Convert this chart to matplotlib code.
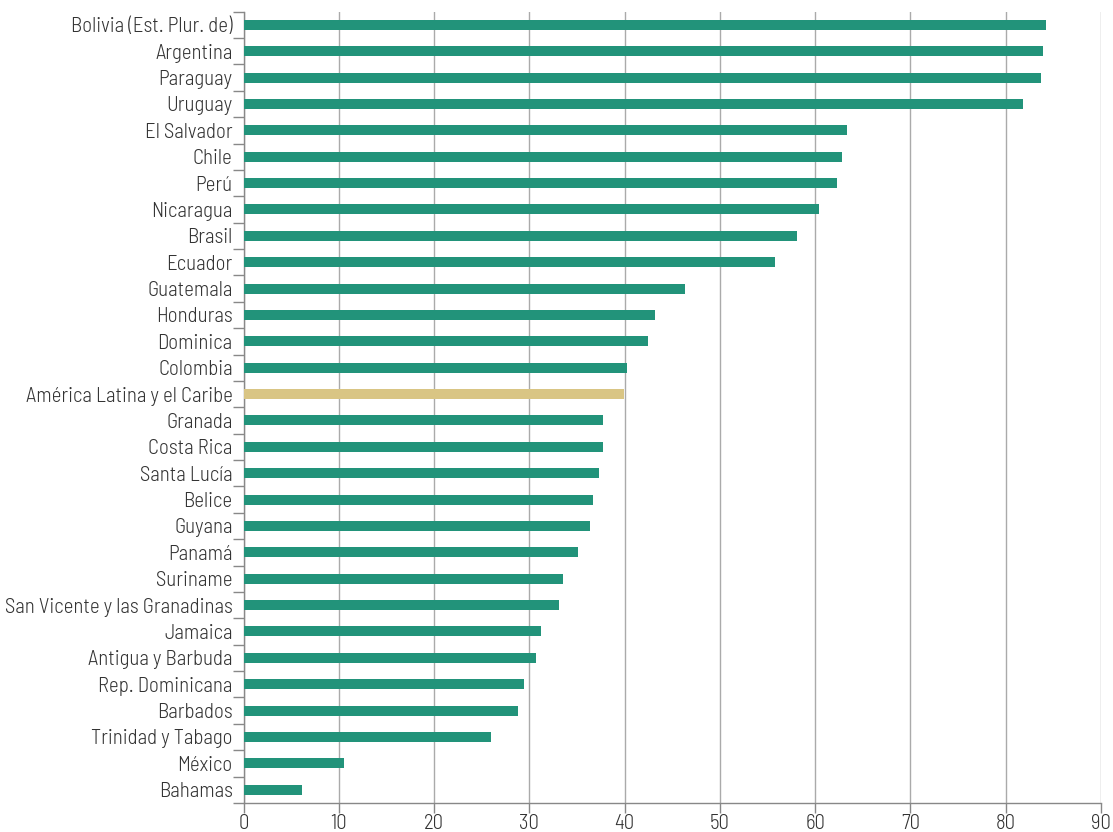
import matplotlib.pyplot as plt
import numpy as np

paises = ["Bolivia (Est. Plur. de)", "Argentina", "Paraguay", "Uruguay", "El Salvador",
          "Chile", "Perú", "Nicaragua", "Brasil", "Ecuador", "Guatemala", "Honduras",
          "Dominica", "Colombia", "América Latina y el Caribe", "Granada", "Costa Rica",
          "Santa Lucía", "Belice", "Guyana", "Panamá", "Suriname",
          "San Vicente y las Granadinas", "Jamaica", "Antigua y Barbuda",
          "Rep. Dominicana", "Barbados", "Trinidad y Tabago", "México", "Bahamas"]
valores = [84.2, 83.9, 83.7, 81.8, 63.4, 62.8, 62.3, 60.4, 58.1, 55.8, 46.3, 43.2,
           42.5, 40.3, 39.9, 37.7, 37.7, 37.3, 36.7, 36.4, 35.1, 33.5, 33.1, 31.2,
           30.7, 29.4, 28.8, 26.0, 10.5, 6.1]
regional = "América Latina y el Caribe"

plt.rcParams['font.family'] = ['Barlow Semi Condensed', 'DejaVu Sans']
plt.rcParams['font.weight'] = 300

verde = '#22937a'
oro = '#d9c584'
colori = [oro if p == regional else verde for p in paises]

fig = plt.figure(figsize=(11.13, 8.32), dpi=100)
ax = fig.add_axes([0.219, 0.035, 0.770, 0.951])

y = np.arange(len(paises))
ax.barh(y, valores, height=0.38, color=colori, zorder=3)

ax.set_xlim(0, 90)
ax.set_ylim(len(paises) - 0.5, -0.5)
ax.set_xticks(np.arange(0, 91, 10))
ax.xaxis.grid(True, color='#aaaaaa', linewidth=1, zorder=0)

ax.set_yticks(y)
ax.set_yticklabels(paises)
ax.set_yticks(np.arange(-0.5, len(paises)), minor=True)
ax.tick_params(axis='y', which='major', length=0, pad=8, labelsize=15, labelcolor='#333333')
ax.tick_params(axis='y', which='minor', length=8, width=1, color='#888888')
ax.tick_params(axis='x', length=7, width=1, color='#888888', labelsize=15, labelcolor='#333333', pad=1)

for s in ['top', 'right']:
    ax.spines[s].set_visible(False)
for s in ['left', 'bottom']:
    ax.spines[s].set_color('#888888')
    ax.spines[s].set_linewidth(1)

fig.savefig('out.png', dpi=100)
